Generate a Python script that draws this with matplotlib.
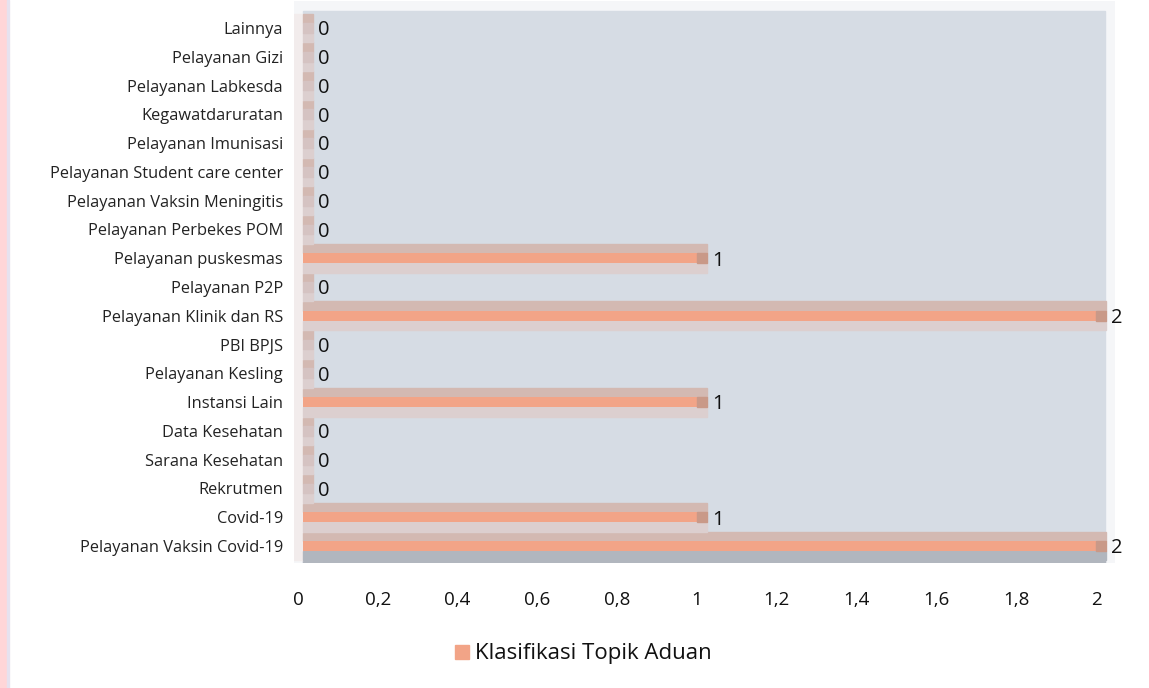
import matplotlib
matplotlib.use("Agg")
import matplotlib.pyplot as plt
from matplotlib.patches import Rectangle

plt.rcParams['font.family'] = ['Open Sans', 'DejaVu Sans']

# categories from bottom to top, as drawn
categories = ["Pelayanan Vaksin Covid-19", "Covid-19", "Rekrutmen", "Sarana Kesehatan",
              "Data Kesehatan", "Instansi Lain", "Pelayanan Kesling", "PBI BPJS",
              "Pelayanan Klinik dan RS", "Pelayanan P2P", "Pelayanan puskesmas",
              "Pelayanan Perbekes POM", "Pelayanan Vaksin Meningitis",
              "Pelayanan Student care center", "Pelayanan Imunisasi",
              "Kegawatdaruratan", "Pelayanan Labkesda", "Pelayanan Gizi", "Lainnya"]
values = [2, 1, 0, 0, 0, 1, 0, 0, 2, 0, 1, 0, 0, 0, 0, 0, 0, 0, 0]
xticks = [0, 0.2, 0.4, 0.6, 0.8, 1, 1.2, 1.4, 1.6, 1.8, 2]
xticklabels = ["0", "0,2", "0,4", "0,6", "0,8", "1", "1,2", "1,4", "1,6", "1,8", "2"]
series_name = "Klasifikasi Topik Aduan"

fig = plt.figure(figsize=(11.49, 6.88), dpi=100)
W, H = 1149, 688
# axes box in pixels: left 294, right 1115, top 1, bottom 563
ax = fig.add_axes([294 / W, 1 - 563 / H, (1115 - 294) / W, (563 - 1) / H])
ax.set_facecolor("#f5f6f8")
ax.set_xlim(-0.0101, 2.0476)
ax.set_ylim(-0.59, 18.94)

# inner panel
ax.add_patch(Rectangle((0.0125, -0.59), 2.0101, 19.18, color="#d6dce4", zorder=0))
# grey strip at the bottom
ax.add_patch(Rectangle((0.0125, -0.59), 2.0101, 0.35, color="#b1b6be", zorder=1))

for i, v in enumerate(values):
    end = v + 0.025 if v > 0 else 0.0375
    # pale left part
    ax.add_patch(Rectangle((-0.0101, i - 0.5), 0.0226, 1.0, color="#f2ecec", zorder=2))
    ax.add_patch(Rectangle((0.0125, i + 0.17), end - 0.0125, 0.33, color="#d3b9b2", zorder=2))
    lower = "#b1b6be" if i == 0 else "#dccfcf"
    ax.add_patch(Rectangle((0.0125, i - 0.5), end - 0.0125, 0.33, color=lower, zorder=2))
    if v > 0:
        ax.barh(i, v - 0.0125, left=0.0125, height=0.34, color="#f2a487", zorder=3)
        ax.add_patch(Rectangle((v, i - 0.17), 0.025, 0.34, color="#c99988", zorder=3))
    else:
        ax.add_patch(Rectangle((0.0125, i - 0.17), 0.025, 0.34, color="#d5c3c2", zorder=3))
    ax.text(end + 0.0125, i - 0.08, str(v), va="center", ha="left", fontsize=14.5,
            color="#111111", zorder=4)

ax.set_yticks(range(len(categories)))
ax.set_yticklabels(categories, fontsize=11.8, color="#222222")
ax.set_xticks(xticks)
ax.set_xticklabels(xticklabels, fontsize=13.5, color="#111111")
ax.tick_params(axis="both", length=0)
ax.tick_params(axis="y", pad=8)
ax.tick_params(axis="x", pad=20)
for s in ax.spines.values():
    s.set_visible(False)

# legend
fig.patches.append(Rectangle((455 / W, 1 - 659 / H), 14 / W, 14 / H, color="#f2a487",
                             transform=fig.transFigure, figure=fig))
fig.text(475 / W, 1 - 654 / H, series_name, fontsize=16, va="center", ha="left", color="#111111")

# pink strip at the left edge
fig.patches.append(Rectangle((0, 0), 7 / W, 1, color="#ffd6d8", transform=fig.transFigure, figure=fig))
fig.patches.append(Rectangle((7 / W, 0), 1.5 / W, 1, color="#e6e2ef", transform=fig.transFigure, figure=fig))

fig.savefig("out.png", dpi=100, facecolor="white")
